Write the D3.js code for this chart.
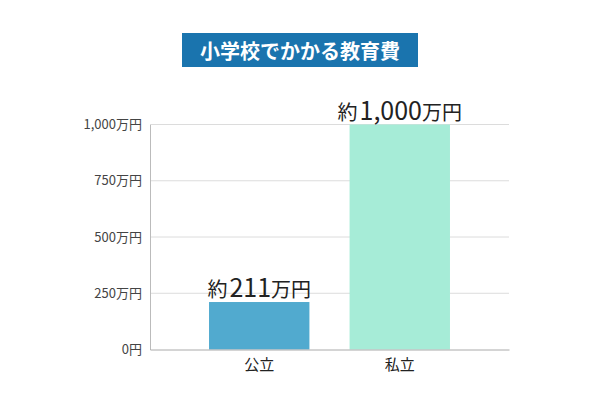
<!DOCTYPE html>
<html><head><meta charset="utf-8">
<script src="https://cdn.jsdelivr.net/npm/d3@7"></script>
<style>body{margin:0;background:#fff}svg{display:block}</style>
</head><body>
<svg width="600" height="400"></svg>
<script>
const categories = ["公立", "私立"];
const values = [211, 1000];
const barLabels = ["211万円", "1,000万円"];
const tickValues = [0, 250, 500, 750, 1000];
const tickLabels = ["0円", "250万円", "500万円", "750万円", "1,000万円"];
const colors = ["#51aacf", "#a6ecd7"];
const title = "小学校でかかる教育費";

const svg = d3.select("svg");
const font = "'Noto Sans CJK JP', 'Noto Sans', sans-serif";

// title box
svg.append("rect").attr("x", 182).attr("y", 33).attr("width", 236).attr("height", 34).attr("fill", "#1a74ae");
svg.append("text").attr("x", 300).attr("y", 50).attr("text-anchor", "middle").attr("dominant-baseline", "central")
  .attr("fill", "#fff").attr("font-family", font).attr("font-weight", "bold").attr("font-size", 20).text(title);

const x = d3.scaleBand().domain(categories).range([150, 509]).paddingInner(0.2857).paddingOuter(0.42);
const y = d3.scaleLinear().domain([0, 1000]).range([349.5, 124.5]);

// gridlines
svg.append("g").selectAll("line").data(tickValues.filter(d => d > 0)).join("line")
  .attr("x1", 150).attr("x2", 509).attr("y1", d => y(d)).attr("y2", d => y(d))
  .attr("stroke", "#dcdcdc").attr("stroke-width", 1);

// y axis
const yAxis = d3.axisLeft(y).tickValues(tickValues).tickFormat((d, i) => tickLabels[i]).tickSize(0).tickPadding(8);
const gy = svg.append("g").attr("transform", "translate(150,0)").call(yAxis);
gy.select(".domain").attr("stroke", "#bbb");
gy.selectAll("text").attr("font-family", font).attr("font-size", 13).attr("fill", "#444");

// bars
svg.append("g").selectAll("rect").data(values).join("rect")
  .attr("x", (d, i) => x(categories[i])).attr("width", x.bandwidth())
  .attr("y", d => y(d)).attr("height", d => y(0) - y(d))
  .attr("fill", (d, i) => colors[i]);

// baseline / x axis
const xAxis = d3.axisBottom(x).tickSize(0).tickPadding(10);
const gx = svg.append("g").attr("transform", `translate(0,${y(0)})`).call(xAxis);
gx.select(".domain").attr("stroke", "#aaa");
gx.selectAll("text").attr("font-family", font).attr("font-size", 15).attr("fill", "#222");

// bar labels
const lbl = svg.append("g").selectAll("text").data(values).join("text")
  .attr("x", (d, i) => x(categories[i]) + x.bandwidth() / 2)
  .attr("y", d => y(d) - 5)
  .attr("text-anchor", "middle").attr("font-family", font).attr("fill", "#222");
lbl.append("tspan").attr("font-size", 20).text("約");
lbl.append("tspan").attr("font-size", 25).attr("dx", 2).text((d, i) => barLabels[i].replace("万円", ""));
lbl.append("tspan").attr("font-size", 20).text("万円");
</script>
</body></html>
